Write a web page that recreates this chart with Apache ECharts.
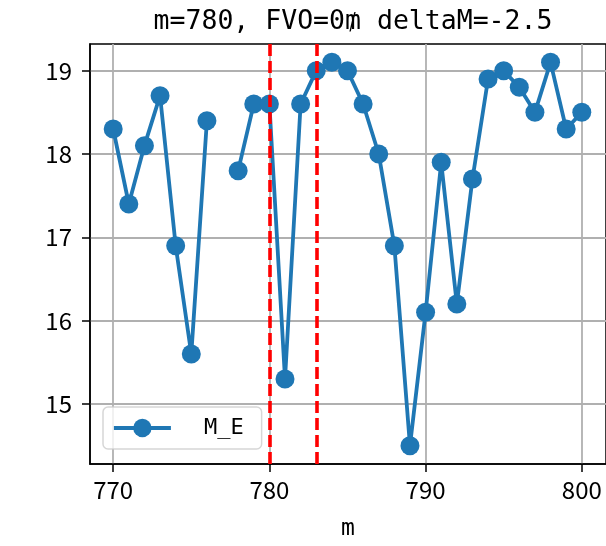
<!DOCTYPE html>
<html>
<head>
<meta charset="utf-8">
<script src="https://cdn.jsdelivr.net/npm/echarts@6/dist/echarts.min.js"></script>
<style>html,body{margin:0;padding:0;background:#fff}#c{width:606px;height:546px}</style>
</head>
<body>
<div id="c"></div>
<script>
const titleText = 'm=780, FVO=0\u20A5 deltaM=-2.5';
const xValues = [770,771,772,773,774,775,776,777,778,779,780,781,782,783,784,785,786,787,788,789,790,791,792,793,794,795,796,797,798,799,800];
const meValues = [18.3,17.4,18.1,18.7,16.9,15.6,18.4,null,17.8,18.6,18.6,15.3,18.6,19.0,19.1,19.0,18.6,18.0,16.9,14.5,16.1,17.9,16.2,17.7,18.9,19.0,18.8,18.5,19.1,18.3,18.5];
const markerLines = [780, 783];
const xTicks = [770, 780, 790, 800];
const yTicks = [15, 16, 17, 18, 19];
const seriesName = 'M_E';
const xAxisName = 'm';

const mono = '"DejaVu Sans Mono", "Liberation Mono", monospace';
const tickFont = '"Liberation Sans Narrow", "Noto Sans CJK SC", sans-serif';

const data = xValues.map((x, i) => [x, meValues[i] === null ? '-' : meValues[i]]);

const chart = echarts.init(document.getElementById('c'), null, {renderer: 'canvas'});
chart.setOption({
  animation: false,
  backgroundColor: '#fff',
  title: {
    text: titleText,
    left: 348, top: 4, textAlign: 'center',
    textStyle: {fontFamily: mono, fontSize: 26.5, fontWeight: 'normal', color: '#000'}
  },
  grid: {
    left: 90, top: 44, right: -2, bottom: 82,
    show: true, borderColor: '#000', borderWidth: 1.5, backgroundColor: 'transparent'
  },
  legend: {
    left: 103, top: 407,
    orient: 'vertical',
    itemWidth: 57, itemHeight: 23,
    padding: [10, 18, 10, 9],
    backgroundColor: 'rgba(255,255,255,0.8)',
    borderColor: 'rgba(204,204,204,0.8)', borderWidth: 1.5, borderRadius: 5,
    lineStyle: {width: 3.8},
    textStyle: {fontFamily: mono, fontSize: 22, color: '#000', padding: [0, 0, 0, 28]},
    data: [seriesName]
  },
  xAxis: {
    type: 'value', min: 768.515, max: 801.55,
    name: xAxisName, nameLocation: 'middle', nameGap: 54,
    nameTextStyle: {fontFamily: mono, fontSize: 23, color: '#000'},
    axisLine: {show: true, onZero: false, lineStyle: {color: '#000', width: 1.5}},
    axisTick: {show: true, inside: false, length: 8, customValues: xTicks, lineStyle: {color: '#000', width: 1.5}},
    axisLabel: {customValues: xTicks, margin: 14, fontFamily: tickFont, fontSize: 24, color: '#000'},
    splitLine: {show: true, lineStyle: {color: '#b0b0b0', width: 1.8}}
  },
  yAxis: {
    type: 'value', min: 14.28, max: 19.32,
    axisLine: {show: true, onZero: false, lineStyle: {color: '#000', width: 1.5}},
    axisTick: {show: true, inside: false, length: 8, customValues: yTicks, lineStyle: {color: '#000', width: 1.5}},
    axisLabel: {customValues: yTicks, margin: 18, fontFamily: tickFont, fontSize: 24, color: '#000'},
    splitLine: {show: true, lineStyle: {color: '#b0b0b0', width: 1.8}}
  },
  series: [{
    name: seriesName,
    type: 'line',
    data: data,
    connectNulls: false,
    symbol: 'circle', symbolSize: 19,
    color: '#1f77b4',
    lineStyle: {color: '#1f77b4', width: 3.8},
    itemStyle: {color: '#1f77b4'},
    z: 3,
    markLine: {
      silent: true, symbol: ['none', 'none'],
      label: {show: false},
      lineStyle: {color: '#ff0000', width: 3.6, type: [12, 5]},
      data: markerLines.map(v => ({xAxis: v})),
      z: 4
    }
  }]
});
</script>
</body>
</html>
